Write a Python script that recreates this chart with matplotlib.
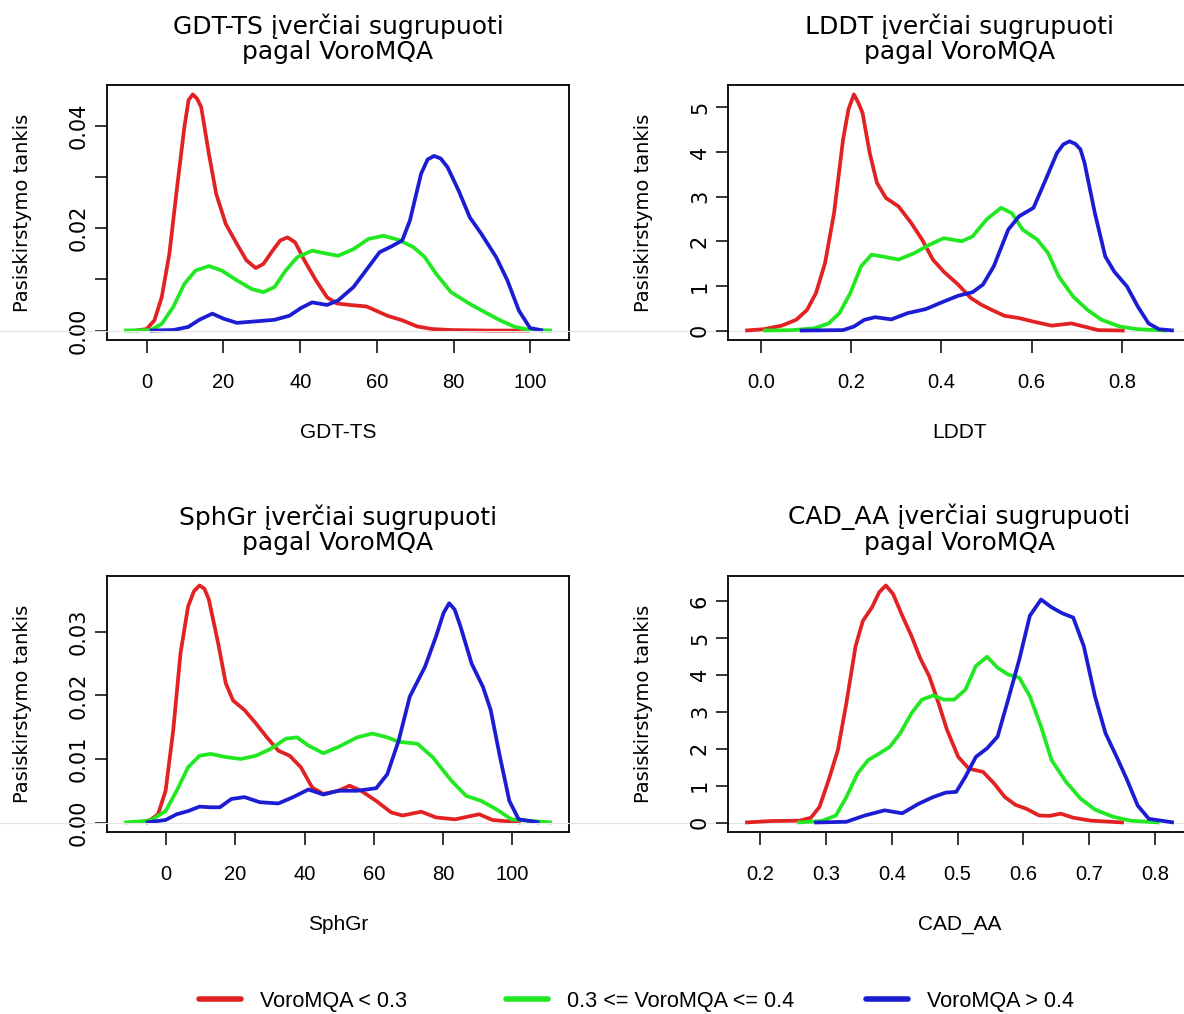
import numpy as np
import matplotlib
matplotlib.use('Agg')
import matplotlib.pyplot as plt
from matplotlib.lines import Line2D

W, H = 1184, 1014

RED = '#e22222'
GREEN = '#22e822'
BLUE = '#1c1cd2'

# --- GDT-TS
gdt_red_x = [-2.9, 0, 2.0, 3.9, 5.9, 7.8, 9.8, 10.9, 12.0, 13.1, 14.2, 16.2, 18.1, 20.6, 23.5, 26.0,
             28.4, 30.4, 32.8, 34.8, 36.7, 38.7, 41.1, 44.1, 47.0, 49.5, 52.9, 57.3, 59.7, 62.7,
             66.6, 70.5, 74.4, 79.3, 89.1, 99.9]
gdt_red_y = [0, 0.0003, 0.0020, 0.0065, 0.0150, 0.0273, 0.0397, 0.0450, 0.0461, 0.0453, 0.0436,
             0.0345, 0.0267, 0.0208, 0.0169, 0.0137, 0.0122, 0.0130, 0.0156, 0.0176, 0.0182,
             0.0172, 0.0137, 0.0098, 0.0065, 0.0053, 0.0050, 0.0047, 0.0039, 0.0029, 0.0020,
             0.0008, 0.0003, 0.0001, 0, 0]
gdt_green_x = [-5.9, 1.0, 3.9, 6.9, 9.8, 12.7, 16.2, 19.6, 23.5, 27.4, 30.4, 33.3, 36.2, 39.2, 43.1,
               47.0, 49.9, 53.9, 57.8, 61.7, 65.6, 69.5, 72.5, 75.4, 79.3, 84.2, 88.1, 92.1, 96.0,
               99.9, 105.6]
gdt_green_y = [0, 0.0001, 0.0013, 0.0046, 0.0091, 0.0117, 0.0126, 0.0117, 0.0098, 0.0081, 0.0075,
               0.0085, 0.0117, 0.0143, 0.0156, 0.0150, 0.0146, 0.0159, 0.0179, 0.0185, 0.0177,
               0.0163, 0.0143, 0.0111, 0.0075, 0.0052, 0.0036, 0.0020, 0.0007, 0.0001, 0]
gdt_blue_x = [0.8, 6.9, 10.8, 13.7, 17.1, 20.1, 23.5, 28.4, 33.3, 37.2, 40.2, 43.1, 47.0, 49.9, 53.9,
              57.8, 60.7, 63.7, 66.6, 68.6, 71.5, 73.2, 74.9, 76.6, 78.4, 81.3, 84.2, 87.2, 91.1,
              94.0, 97.0, 99.9, 103.3]
gdt_blue_y = [0, 0.0001, 0.0007, 0.0021, 0.0033, 0.0023, 0.0015, 0.0018, 0.0021, 0.0029, 0.0044,
              0.0055, 0.0050, 0.0059, 0.0085, 0.0124, 0.0153, 0.0164, 0.0176, 0.0215, 0.0306,
              0.0334, 0.0341, 0.0336, 0.0319, 0.0273, 0.0221, 0.0189, 0.0143, 0.0098, 0.0039,
              0.0005, 0]

# --- LDDT
lddt_red_x = [-0.035, 0.006, 0.046, 0.078, 0.102, 0.122, 0.142, 0.162, 0.182, 0.194, 0.206, 0.216,
              0.225, 0.241, 0.257, 0.277, 0.305, 0.333, 0.357, 0.381, 0.405, 0.437, 0.465, 0.488,
              0.512, 0.540, 0.572, 0.604, 0.644, 0.688, 0.716, 0.747, 0.806]
lddt_red_y = [0, 0.03, 0.11, 0.24, 0.46, 0.84, 1.51, 2.63, 4.28, 4.96, 5.29, 5.10, 4.88, 3.98, 3.31,
              2.97, 2.78, 2.41, 2.04, 1.59, 1.32, 1.03, 0.73, 0.58, 0.46, 0.33, 0.28, 0.20, 0.11,
              0.16, 0.09, 0.01, 0]
lddt_green_x = [0.005, 0.070, 0.118, 0.150, 0.174, 0.198, 0.222, 0.245, 0.269, 0.305, 0.341, 0.373,
                0.405, 0.445, 0.469, 0.500, 0.532, 0.556, 0.580, 0.612, 0.636, 0.660, 0.692, 0.724,
                0.755, 0.795, 0.835, 0.899]
lddt_green_y = [0, 0.01, 0.05, 0.16, 0.39, 0.84, 1.44, 1.70, 1.66, 1.59, 1.74, 1.92, 2.07, 2.00,
                2.11, 2.49, 2.75, 2.63, 2.26, 2.04, 1.74, 1.21, 0.76, 0.46, 0.24, 0.09, 0.03, 0]
lddt_blue_x = [0.086, 0.182, 0.206, 0.229, 0.253, 0.289, 0.325, 0.365, 0.405, 0.437, 0.469, 0.492,
               0.516, 0.548, 0.572, 0.604, 0.628, 0.656, 0.670, 0.684, 0.697, 0.708, 0.717, 0.740,
               0.763, 0.783, 0.811, 0.835, 0.859, 0.882, 0.915]
lddt_blue_y = [0, 0.01, 0.09, 0.24, 0.30, 0.25, 0.39, 0.48, 0.65, 0.78, 0.86, 1.03, 1.44, 2.26,
               2.56, 2.75, 3.31, 3.98, 4.17, 4.24, 4.18, 4.06, 3.76, 2.63, 1.66, 1.32, 0.99, 0.54,
               0.16, 0.03, 0]

# --- SphGr
sph_red_x = [-7.6, -4.6, -2.4, -0.2, 2.0, 4.1, 6.3, 8.0, 9.6, 11.0, 12.3, 15.0, 17.2, 19.3, 22.6,
             25.9, 29.1, 32.4, 35.7, 38.9, 42.2, 45.4, 49.8, 53.0, 56.3, 60.7, 65.0, 68.3, 73.7,
             78.0, 83.5, 90.5, 94.3, 102.5]
sph_red_y = [0, 0.0004, 0.0013, 0.0050, 0.0145, 0.0266, 0.0340, 0.0364, 0.0373, 0.0368, 0.0351,
             0.0282, 0.0219, 0.0192, 0.0177, 0.0156, 0.0134, 0.0113, 0.0105, 0.0087, 0.0055,
             0.0045, 0.0050, 0.0058, 0.0050, 0.0034, 0.0016, 0.0011, 0.0017, 0.0008, 0.0005,
             0.0013, 0.0004, 0]
sph_green_x = [-12.2, -4.6, -0.2, 3.0, 6.3, 9.6, 12.8, 17.2, 21.5, 25.9, 30.2, 34.6, 37.8, 41.1,
               45.4, 49.8, 55.2, 59.6, 63.9, 67.2, 72.6, 77.0, 82.4, 86.7, 91.1, 95.4, 99.8, 111.5]
sph_green_y = [0, 0.0003, 0.0018, 0.0050, 0.0087, 0.0105, 0.0108, 0.0103, 0.0100, 0.0105, 0.0116,
               0.0132, 0.0134, 0.0121, 0.0109, 0.0119, 0.0134, 0.0140, 0.0134, 0.0127, 0.0124,
               0.0103, 0.0066, 0.0042, 0.0034, 0.0021, 0.0005, 0]
sph_blue_x = [-5.9, -0.2, 3.0, 6.3, 9.6, 12.8, 15.5, 18.8, 22.6, 27.0, 32.4, 36.7, 41.1, 45.4, 49.8,
              55.2, 60.7, 63.9, 67.2, 70.4, 74.8, 78.0, 80.2, 81.8, 83.4, 85.1, 88.3, 91.6, 93.8,
              96.5, 99.2, 101.9, 107.9]
sph_blue_y = [0, 0.0004, 0.0013, 0.0018, 0.0025, 0.0024, 0.0024, 0.0037, 0.0040, 0.0032, 0.0030,
              0.0040, 0.0052, 0.0044, 0.0050, 0.0050, 0.0054, 0.0076, 0.0129, 0.0198, 0.0245,
              0.0293, 0.0330, 0.0345, 0.0335, 0.0308, 0.0250, 0.0213, 0.0177, 0.0103, 0.0034,
              0.0005, 0]

# --- CAD_AA
cad_red_x = [0.177, 0.216, 0.260, 0.277, 0.290, 0.304, 0.318, 0.331, 0.345, 0.356, 0.370, 0.381,
             0.391, 0.402, 0.416, 0.430, 0.443, 0.457, 0.471, 0.484, 0.501, 0.517, 0.539, 0.556,
             0.572, 0.588, 0.605, 0.624, 0.640, 0.657, 0.676, 0.703, 0.753]
cad_red_y = [0, 0.04, 0.05, 0.13, 0.42, 1.15, 1.96, 3.24, 4.78, 5.46, 5.83, 6.24, 6.42, 6.19, 5.60,
             5.05, 4.46, 3.96, 3.24, 2.51, 1.78, 1.46, 1.37, 1.05, 0.69, 0.48, 0.37, 0.19, 0.18,
             0.24, 0.13, 0.05, 0]
cad_green_x = [0.256, 0.293, 0.315, 0.331, 0.348, 0.364, 0.381, 0.397, 0.413, 0.430, 0.446, 0.463,
               0.479, 0.495, 0.512, 0.528, 0.545, 0.561, 0.577, 0.594, 0.610, 0.627, 0.643, 0.665,
               0.687, 0.709, 0.736, 0.763, 0.807]
cad_green_y = [0, 0.04, 0.19, 0.69, 1.33, 1.69, 1.87, 2.05, 2.42, 2.96, 3.33, 3.44, 3.33, 3.33,
               3.60, 4.24, 4.49, 4.19, 4.01, 3.92, 3.42, 2.60, 1.69, 1.10, 0.65, 0.35, 0.16, 0.05, 0]
cad_blue_x = [0.282, 0.331, 0.359, 0.389, 0.416, 0.441, 0.463, 0.482, 0.498, 0.512, 0.528, 0.545,
              0.561, 0.577, 0.594, 0.610, 0.627, 0.643, 0.659, 0.676, 0.692, 0.709, 0.725, 0.742,
              0.758, 0.774, 0.791, 0.829]
cad_blue_y = [0, 0.02, 0.19, 0.33, 0.25, 0.51, 0.69, 0.81, 0.83, 1.24, 1.78, 2.01, 2.33, 3.33,
              4.42, 5.60, 6.04, 5.83, 5.67, 5.55, 4.78, 3.42, 2.42, 1.78, 1.15, 0.46, 0.10, 0]

titles = ['GDT-TS įverčiai sugrupuoti\npagal VoroMQA', 'LDDT įverčiai sugrupuoti\npagal VoroMQA',
          'SphGr įverčiai sugrupuoti\npagal VoroMQA', 'CAD_AA įverčiai sugrupuoti\npagal VoroMQA']
xlabels = ['GDT-TS', 'LDDT', 'SphGr', 'CAD_AA']
xticks = [[0, 20, 40, 60, 80, 100], [0.0, 0.2, 0.4, 0.6, 0.8],
          [0, 20, 40, 60, 80, 100], [0.2, 0.3, 0.4, 0.5, 0.6, 0.7, 0.8]]
xticklabels = [['0', '20', '40', '60', '80', '100'], ['0.0', '0.2', '0.4', '0.6', '0.8'],
               ['0', '20', '40', '60', '80', '100'], ['0.2', '0.3', '0.4', '0.5', '0.6', '0.7', '0.8']]
yticks = [[0, 0.01, 0.02, 0.03, 0.04], [0, 1, 2, 3, 4, 5],
          [0, 0.01, 0.02, 0.03], [0, 1, 2, 3, 4, 5, 6]]
yticklabels = [['0.00', '', '0.02', '', '0.04'], ['0', '1', '2', '3', '4', '5'],
               ['0.00', '0.01', '0.02', '0.03'], ['0', '1', '2', '3', '4', '5', '6']]
legend_labels = ['VoroMQA < 0.3', '0.3 <= VoroMQA <= 0.4', 'VoroMQA > 0.4']
colors = [RED, GREEN, BLUE]

curves = [
    [(gdt_red_x, gdt_red_y), (gdt_green_x, gdt_green_y), (gdt_blue_x, gdt_blue_y)],
    [(lddt_red_x, lddt_red_y), (lddt_green_x, lddt_green_y), (lddt_blue_x, lddt_blue_y)],
    [(sph_red_x, sph_red_y), (sph_green_x, sph_green_y), (sph_blue_x, sph_blue_y)],
    [(cad_red_x, cad_red_y), (cad_green_x, cad_green_y), (cad_blue_x, cad_blue_y)],
]

# axes boxes in pixels: left, top, right, bottom (right column runs off the canvas)
boxes = [(107, 85, 569, 340), (728, 85, 1191, 340), (107, 576, 569, 832), (728, 576, 1191, 832)]

plt.rcParams['font.family'] = 'DejaVu Sans'
fig = plt.figure(figsize=(W / 100, H / 100), dpi=100)

for i in range(4):
    l, t, r, b = boxes[i]
    ax = fig.add_axes([l / W, 1 - b / H, (r - l) / W, (b - t) / H])
    allx = np.concatenate([np.array(c[0]) for c in curves[i]])
    ally = np.concatenate([np.array(c[1]) for c in curves[i]])
    xpad = 0.04 * (allx.max() - allx.min())
    ypad = 0.04 * ally.max()
    ax.set_xlim(allx.min() - xpad, allx.max() + xpad)
    ax.set_ylim(-ypad, ally.max() + ypad)

    # R draws the zero line across the whole device
    wfrac = (r - l) / W
    ax.axhline(0, xmin=-(l / W) / wfrac, xmax=(1 - l / W) / wfrac, color='#e4e4e4',
               lw=0.8, clip_on=False, zorder=0)
    for (xs, ys), c in zip(curves[i], colors):
        ax.plot(xs, ys, color=c, lw=2.7, solid_joinstyle='round', solid_capstyle='butt')

    for s in ax.spines.values():
        s.set_linewidth(1.3)
    ax.set_xticks(xticks[i])
    ax.set_xticklabels(xticklabels[i], fontfamily='Liberation Sans', fontsize=14.5)
    ax.set_yticks(yticks[i])
    ax.set_yticklabels(yticklabels[i], fontsize=15, rotation=90, va='center')
    ax.tick_params(axis='x', direction='out', length=9, width=1.1, pad=15)
    ax.tick_params(axis='y', direction='out', length=9, width=1.1, pad=4)

    h = b - t
    w = r - l
    ax.text(0.5, 1 + 46.5 / h, titles[i], transform=ax.transAxes, ha='center', va='center',
            fontsize=18, linespacing=1.05)
    ax.text(0.5, -93 / h, xlabels[i], transform=ax.transAxes, ha='center', va='center',
            fontfamily='Liberation Sans', fontsize=15)
    ax.text(-84.5 / w, 0.5, 'Pasiskirstymo tankis', transform=ax.transAxes, ha='center',
            va='center', rotation=90, fontsize=14)

# legend at the bottom, one item per anchor as in the R output
legend_x = [199, 506, 866]
for lab, c, x0 in zip(legend_labels, colors, legend_x):
    fig.legend(handles=[Line2D([], [], color=c, lw=4, solid_capstyle='round')], labels=[lab],
               loc='center left', bbox_to_anchor=(x0 / W, 1 - 1001 / H), frameon=False,
               borderpad=0, borderaxespad=0, handlelength=1.95, handletextpad=0.85,
               prop={'family': 'Liberation Sans', 'size': 15.6})

fig.savefig('out.png', dpi=100)
